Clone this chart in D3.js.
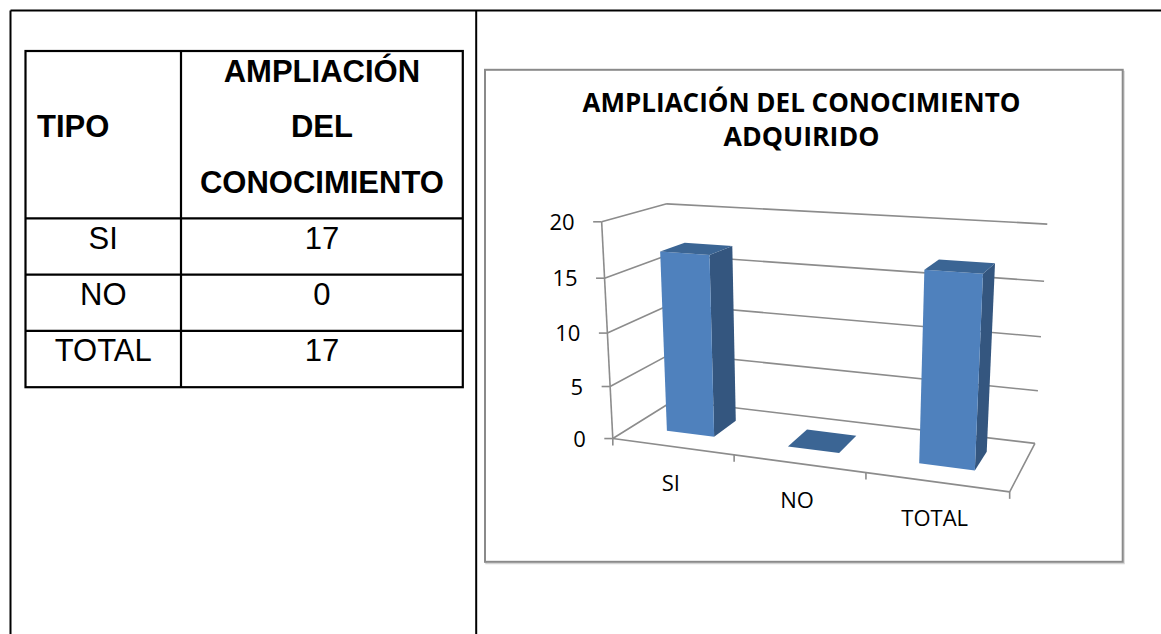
<!DOCTYPE html>
<html><head><meta charset="utf-8">
<script src="https://cdn.jsdelivr.net/npm/d3@7/dist/d3.min.js"></script>
<style>
body{margin:0;background:#fff}
svg{display:block}
</style>
</head><body>
<svg id="c" width="1161" height="634"></svg>
<script>
// ---------- data ----------
const tableHeadTipo = "TIPO";
const tableHeadValue = ["AMPLIACIÓN", "DEL", "CONOCIMIENTO"];
const categories = ["SI", "NO", "TOTAL"];
const values = [17, 0, 17];
const yTicks = [0, 5, 10, 15, 20];
const chartTitle = ["AMPLIACIÓN DEL CONOCIMIENTO", "ADQUIRIDO"];
const seriesNames = ["Serie1"];

// ---------- layout ----------
const svg = d3.select("#c");
const ink = "#000";
const tableFont = "'Liberation Sans', Arial, sans-serif";
const chartFont = "'Open Sans', 'Noto Sans', sans-serif";

// document frame (outer table of the page)
const frameG = svg.append("g").attr("stroke", ink).attr("stroke-width", 2).attr("fill", "none");
frameG.append("line").attr("x1", 10.5).attr("y1", 10.5).attr("x2", 1161).attr("y2", 10.5);
frameG.append("line").attr("x1", 10.5).attr("y1", 10.5).attr("x2", 10.5).attr("y2", 634);
frameG.append("line").attr("x1", 476.2).attr("y1", 10.5).attr("x2", 476.2).attr("y2", 634);

// ---------- data table ----------
const tX0 = 25.5, tXc = 181, tX1 = 462.8;
const headTop = 51, headBottom = 218.3, rowH = 56.3;
const rowY = d3.scaleLinear().domain([0, categories.length]).range([headBottom, headBottom + rowH * categories.length]);
const tg = svg.append("g");
const tLines = tg.append("g").attr("stroke", ink).attr("stroke-width", 2.2).attr("fill", "none");
const tBottom = rowY(categories.length);
tLines.append("rect").attr("x", tX0).attr("y", headTop).attr("width", tX1 - tX0).attr("height", tBottom - headTop);
tLines.append("line").attr("x1", tXc).attr("x2", tXc).attr("y1", headTop).attr("y2", tBottom);
tLines.selectAll("line.r").data(d3.range(categories.length)).join("line").attr("class", "r")
  .attr("x1", tX0).attr("x2", tX1).attr("y1", d => rowY(d)).attr("y2", d => rowY(d));

tg.append("text").text(tableHeadTipo).attr("x", 37).attr("y", 136.7)
  .attr("font-family", tableFont).attr("font-weight", "bold").attr("font-size", 31);
tg.selectAll("text.h").data(tableHeadValue).join("text").attr("class", "h")
  .text(d => d).attr("x", (tXc + tX1) / 2).attr("y", (d, i) => 81.7 + i * 55.5)
  .attr("text-anchor", "middle").attr("font-family", tableFont).attr("font-weight", "bold").attr("font-size", 31);
tg.selectAll("text.c").data(categories).join("text").attr("class", "c")
  .text(d => d).attr("x", (tX0 + tXc) / 2).attr("y", (d, i) => rowY(i) + 30.2)
  .attr("text-anchor", "middle").attr("font-family", tableFont).attr("font-size", 31);
tg.selectAll("text.v").data(values).join("text").attr("class", "v")
  .text(d => d).attr("x", (tXc + tX1) / 2).attr("y", (d, i) => rowY(i) + 30.2)
  .attr("text-anchor", "middle").attr("font-family", tableFont).attr("font-size", 31);

// ---------- chart box ----------
const cg = svg.append("g");
cg.append("rect").attr("x", 486).attr("y", 71.5).attr("width", 638).attr("height", 492)
  .attr("fill", "none").attr("stroke", "#d4d4d4").attr("stroke-width", 1.5);
cg.append("rect").attr("x", 485).attr("y", 69.8).attr("width", 637.7).attr("height", 492)
  .attr("fill", "#fff").attr("stroke", "#8a8a8a").attr("stroke-width", 2);

// title
const titleTargets = [433, 156];
cg.selectAll("text.t").data(chartTitle).join("text").attr("class", "t")
  .text(d => d).attr("x", 801.5).attr("y", (d, i) => 112 + i * 34.3)
  .attr("text-anchor", "middle").attr("font-family", chartFont).attr("font-weight", "bold")
  .attr("font-size", 26).attr("fill", "#000")
  .each(function (d, i) {
    const len = this.getComputedTextLength();
    if (Math.abs(len - titleTargets[i]) / titleTargets[i] > 0.015) {
      d3.select(this).attr("textLength", titleTargets[i]).attr("lengthAdjust", "spacingAndGlyphs");
    }
  });

// ---------- 3D projection (perspective fitted to the plot-box corners) ----------
// world: X along categories [0,1], Y value fraction [0,1], Z depth [0 front, 1 back]
const boxCorners = [
  [[0, 0, 0], [612.7, 438.3]],
  [[0, 1, 0], [601.7, 221.7]],
  [[0, 1, 1], [666.7, 204.0]],
  [[1, 1, 1], [1047.3, 224.0]],
  [[1, 0, 1], [1035.0, 443.3]],
  [[1, 0, 0], [1009.5, 491.7]],
  [[1 / 3, 0, 0], [734.3, 454.9]],
  [[2 / 3, 0, 0], [866.0, 473.0]]
];
const NX = 800, NY = 350, NS = 200;
function solveDLT(pts) {
  const A = [], b = [];
  pts.forEach(([[X, Y, Z], [u0, v0]]) => {
    const u = (u0 - NX) / NS, v = (v0 - NY) / NS;
    A.push([X, Y, Z, 1, 0, 0, 0, 0, -u * X, -u * Y, -u * Z]); b.push(u);
    A.push([0, 0, 0, 0, X, Y, Z, 1, -v * X, -v * Y, -v * Z]); b.push(v);
  });
  const n = 11;
  const M = d3.range(n).map(i => d3.range(n + 1).map(j => {
    let s = 0;
    for (let k = 0; k < A.length; k++) s += A[k][i] * (j < n ? A[k][j] : b[k]);
    return s;
  }));
  for (let c = 0; c < n; c++) {
    let p = c;
    for (let r = c + 1; r < n; r++) if (Math.abs(M[r][c]) > Math.abs(M[p][c])) p = r;
    [M[c], M[p]] = [M[p], M[c]];
    for (let r = 0; r < n; r++) {
      if (r === c) continue;
      const f = M[r][c] / M[c][c];
      for (let j = c; j <= n; j++) M[r][j] -= f * M[c][j];
    }
  }
  return d3.range(n).map(i => M[i][n] / M[i][i]);
}
const m = solveDLT(boxCorners);
function P(X, Y, Z) {
  const w = m[8] * X + m[9] * Y + m[10] * Z + 1;
  return [
    ((m[0] * X + m[1] * Y + m[2] * Z + m[3]) / w) * NS + NX,
    ((m[4] * X + m[5] * Y + m[6] * Z + m[7]) / w) * NS + NY
  ];
}

// scales
const yScale = d3.scaleLinear().domain([0, 20]).range([0, 1]);
const xBand = d3.scaleBand().domain(categories).range([0, 1]).paddingInner(0.6).paddingOuter(0.3);
const zBand = d3.scaleBand().domain(seriesNames).range([0, 1]).paddingInner(0.6).paddingOuter(0.3);
const step = xBand.step();

const gridColor = "#8c8c8c";
const gl = cg.append("g").attr("stroke", gridColor).attr("stroke-width", 1.6).attr("fill", "none");
const seg = (a, b2) => `M${a[0]},${a[1]}L${b2[0]},${b2[1]}`;

// side wall and back wall gridlines
gl.selectAll("path.gs").data(yTicks).join("path").attr("class", "gs")
  .attr("d", t => seg(P(0, yScale(t), 0), P(0, yScale(t), 1)) + seg(P(0, yScale(t), 1), P(1, yScale(t), 1)));
// floor right edge and front edge
gl.append("path").attr("d", seg(P(0, 0, 0), P(1, 0, 0)) + seg(P(1, 0, 0), P(1, 0, 1)));
// value axis
gl.append("path").attr("d", seg(P(0, 0, 0), P(0, 1, 0)));
// value ticks
gl.selectAll("path.yt").data(yTicks).join("path").attr("class", "yt")
  .attr("d", t => { const p = P(0, yScale(t), 0); return seg([p[0] - 8.5, p[1]], p); });
// category ticks
const catEdges = d3.range(categories.length + 1).map(i => i * step);
gl.selectAll("path.xt").data(catEdges).join("path").attr("class", "xt")
  .attr("d", x => { const p = P(x, 0, 0); return seg(p, [p[0], p[1] + 7]); });

// value labels
cg.selectAll("text.yl").data(yTicks).join("text").attr("class", "yl")
  .text(d => d)
  .attr("x", t => P(0, yScale(t), 0)[0] - 27)
  .attr("y", t => P(0, yScale(t), 0)[1] + 8)
  .attr("text-anchor", "end").attr("font-family", chartFont).attr("font-size", 22).attr("fill", "#000");

// category labels
cg.selectAll("text.xl").data(categories).join("text").attr("class", "xl")
  .text(d => d)
  .attr("x", c => P(xBand(c) + xBand.bandwidth() / 2, 0, 0)[0] - 1.5)
  .attr("y", c => P(xBand(c) + xBand.bandwidth() / 2, 0, 0)[1] + 44)
  .attr("text-anchor", "middle").attr("font-family", chartFont).attr("font-size", 22).attr("fill", "#000");

// bars
const colFront = "#4f81bd", colSide = "#34567f", colTop = "#3b6594";
const poly = pts => "M" + pts.map(p => p.join(",")).join("L") + "Z";
const bars = categories.map((c, i) => {
  const x0 = xBand(c), x1 = x0 + xBand.bandwidth();
  const z0 = zBand(seriesNames[0]), z1 = z0 + zBand.bandwidth();
  const h = yScale(values[i]);
  return { c, x0, x1, z0, z1, h };
});
const bg = cg.append("g");
bars.forEach(b => {
  const g = bg.append("g");
  if (b.h > 0) {
    g.append("path").attr("fill", colSide)
      .attr("d", poly([P(b.x1, 0, b.z0), P(b.x1, 0, b.z1), P(b.x1, b.h, b.z1), P(b.x1, b.h, b.z0)]));
    g.append("path").attr("fill", colFront)
      .attr("d", poly([P(b.x0, 0, b.z0), P(b.x1, 0, b.z0), P(b.x1, b.h, b.z0), P(b.x0, b.h, b.z0)]));
  }
  g.append("path").attr("fill", colTop)
    .attr("d", poly([P(b.x0, b.h, b.z0), P(b.x1, b.h, b.z0), P(b.x1, b.h, b.z1), P(b.x0, b.h, b.z1)]));
});
</script>
</body></html>
